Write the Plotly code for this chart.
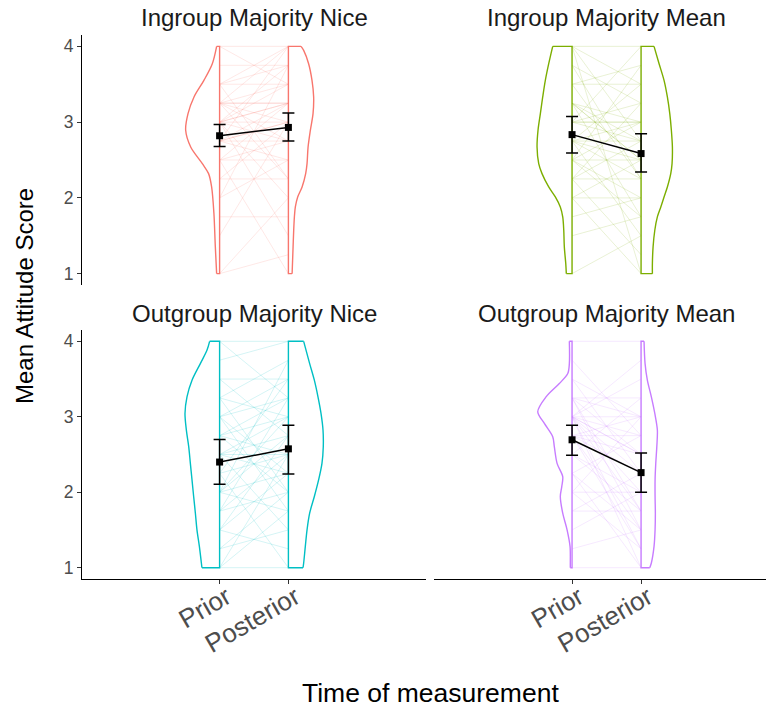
import plotly.graph_objects as go

# ---- facet labels, colours, time points ----
PANELS = ["Ingroup Majority Nice", "Ingroup Majority Mean",
          "Outgroup Majority Nice", "Outgroup Majority Mean"]
COLORS = ["#F8766D", "#7CAE00", "#00BFC4", "#C77CFF"]
TIMES = ["Prior", "Posterior"]
Y_TICKS = [1, 2, 3, 4]

# ---- participant scores (paired prior / posterior) ----
IMN_PRIOR = [4.0, 4.0, 3.75, 3.5, 3.5, 3.5, 3.5, 3.25, 3.25, 3.25, 3.25, 3.25, 3.25, 3.25,
             3.0, 3.0, 3.0, 3.0, 3.0, 3.0, 3.0, 3.0, 2.75, 2.75, 2.75, 2.75, 2.75, 2.75,
             2.5, 2.5, 2.5, 2.5, 2.25, 2.25, 2.0, 2.0, 1.75, 1.5, 1.0, 1.0]
IMN_POST = [4.0, 3.5, 3.75, 3.5, 4.0, 2.25, 3.75, 3.0, 3.25, 2.75, 4.0, 3.25, 2.25, 3.5,
            3.0, 3.25, 2.0, 3.75, 2.75, 3.5, 1.5, 3.25, 3.0, 4.0, 2.5, 3.25, 2.75, 3.0,
            2.5, 2.75, 1.0, 3.25, 3.0, 2.25, 2.5, 3.75, 1.75, 3.0, 2.0, 1.25]

IMM_PRIOR = [4.0, 4.0, 4.0, 4.0, 3.75, 3.75, 3.5, 3.5, 3.5, 3.25, 3.25, 3.25, 3.25, 3.25,
             3.0, 3.0, 3.0, 3.0, 3.0, 2.75, 2.75, 2.75, 2.75, 2.75, 2.75, 2.5, 2.5, 2.5,
             2.5, 2.5, 2.25, 2.25, 2.25, 2.25, 2.0, 2.0, 2.0, 1.75, 1.5, 1.0]
IMM_POST = [3.5, 2.75, 4.0, 1.0, 3.25, 2.25, 3.75, 3.5, 2.25, 2.75, 1.75, 2.5, 2.5, 3.0,
            3.0, 4.0, 2.75, 3.0, 3.25, 2.5, 3.0, 1.5, 2.75, 3.5, 2.25, 2.0, 3.0, 2.5,
            1.75, 3.75, 2.75, 1.25, 2.25, 3.25, 2.5, 1.0, 2.0, 2.0, 1.75, 1.5]

OMN_PRIOR = [4.0, 4.0, 3.75, 3.5, 3.5, 3.25, 3.25, 3.25, 3.0, 3.0, 3.0, 3.0, 2.75, 2.75,
             2.75, 2.75, 2.5, 2.5, 2.5, 2.5, 2.5, 2.25, 2.25, 2.25, 2.0, 2.0, 2.0, 2.0,
             2.0, 1.75, 1.75, 1.75, 1.5, 1.5, 1.5, 1.25, 1.25, 1.0, 1.0, 1.0]
OMN_POST = [4.0, 3.25, 4.0, 2.75, 3.5, 2.0, 3.75, 3.0, 2.25, 3.5, 1.75, 3.25, 2.5, 3.25,
            3.0, 2.0, 2.5, 2.75, 1.5, 3.0, 2.25, 3.5, 2.5, 1.0, 2.75, 3.75, 2.25, 1.75,
            3.0, 2.5, 2.0, 3.25, 2.25, 1.25, 2.75, 2.0, 1.5, 2.5, 1.75, 1.0]

OMM_PRIOR = [4.0, 3.75, 3.5, 3.5, 3.25, 3.25, 3.25, 3.25, 3.25, 3.0, 3.0, 3.0, 3.0, 3.0,
             3.0, 3.0, 3.0, 3.0, 3.0, 3.0, 2.75, 2.75, 2.75, 2.75, 2.75, 2.75, 2.5, 2.5,
             2.5, 2.25, 2.25, 2.25, 2.0, 2.0, 2.0, 1.75, 1.75, 1.5, 1.25, 1.0]
OMM_POST = [4.0, 2.75, 3.0, 2.25, 3.0, 1.75, 2.5, 3.25, 1.5, 2.5, 3.5, 2.75, 1.25, 2.5,
            3.0, 1.75, 2.25, 1.0, 2.0, 3.75, 2.5, 1.5, 3.0, 2.25, 1.25, 2.75, 2.0, 1.75,
            3.25, 1.5, 2.75, 1.0, 2.0, 1.25, 3.0, 2.25, 1.75, 2.0, 1.5, 1.0]

PRIOR = [IMN_PRIOR, IMM_PRIOR, OMN_PRIOR, OMM_PRIOR]
POST = [IMN_POST, IMM_POST, OMN_POST, OMM_POST]

# ---- group means with interval bounds ----
MEAN_PRIOR = [2.82, 2.835, 2.40, 2.695]
MEAN_POST = [2.93, 2.585, 2.575, 2.26]
LO_PRIOR = [2.677, 2.594, 2.106, 2.49]
HI_PRIOR = [2.967, 3.073, 2.70, 2.886]
LO_POST = [2.75, 2.343, 2.242, 2.00]
HI_POST = [3.12, 2.845, 2.886, 2.52]

# ---- half-violin density outlines: score level and half-width ----
IMN_PRIOR_DY = [4.0, 3.771, 3.551, 3.332, 3.112, 2.892, 2.672, 2.452, 2.32, 2.144, 1.80, 1.353, 1.0]
IMN_PRIOR_DW = [0.043, 0.106, 0.228, 0.372, 0.459, 0.493, 0.420, 0.251, 0.160, 0.116, 0.083, 0.062, 0.043]
IMN_POST_DY = [4.0, 3.947, 3.771, 3.551, 3.332, 3.112, 2.892, 2.672, 2.452, 2.32, 2.144, 2.012,
               1.88, 1.749, 1.573, 1.353, 1.0]
IMN_POST_DW = [0.184, 0.222, 0.294, 0.343, 0.367, 0.358, 0.319, 0.286, 0.271, 0.251, 0.199, 0.135,
               0.101, 0.087, 0.077, 0.068, 0.054]

IMM_DY = [4.0, 3.771, 3.551, 3.332, 3.112, 2.892, 2.672, 2.452, 2.32, 2.144, 2.012, 1.88,
          1.749, 1.573, 1.353, 1.133, 1.0]
IMM_PRIOR_DW = [0.280, 0.338, 0.387, 0.425, 0.459, 0.493, 0.507, 0.483, 0.435, 0.338, 0.242, 0.170,
                0.135, 0.120, 0.112, 0.091, 0.083]
IMM_POST_DW = [0.188, 0.261, 0.333, 0.381, 0.416, 0.439, 0.454, 0.449, 0.430, 0.381, 0.333, 0.286,
               0.236, 0.199, 0.174, 0.164, 0.164]

OMN_PRIOR_DY = [4.0, 3.881, 3.705, 3.485, 3.264, 3.044, 2.824, 2.604, 2.383, 2.163, 1.943, 1.722,
                1.502, 1.282, 1.062, 1.0]
OMN_PRIOR_DW = [0.145, 0.184, 0.280, 0.401, 0.474, 0.503, 0.483, 0.449, 0.425, 0.401, 0.377, 0.352,
                0.329, 0.294, 0.265, 0.257]
OMN_POST_DY = [4.0, 3.705, 3.485, 3.264, 3.044, 2.824, 2.604, 2.383, 2.163, 1.943, 1.722, 1.502,
               1.282, 1.062, 1.0]
OMN_POST_DW = [0.222, 0.309, 0.377, 0.430, 0.474, 0.503, 0.507, 0.488, 0.439, 0.377, 0.309, 0.271,
               0.246, 0.222, 0.213]

OMM_PRIOR_DY = [4.0, 3.705, 3.573, 3.441, 3.264, 3.066, 2.912, 2.736, 2.604, 2.383, 2.207, 2.075,
                1.943, 1.722, 1.502, 1.282, 1.062, 1.0]
OMM_PRIOR_DW = [0.039, 0.039, 0.062, 0.184, 0.377, 0.497, 0.401, 0.280, 0.257, 0.217, 0.135, 0.149,
                0.170, 0.135, 0.072, 0.029, 0.025, 0.025]
OMM_POST_DY = [4.0, 3.705, 3.485, 3.264, 3.044, 2.824, 2.604, 2.383, 2.163, 1.943, 1.722, 1.502,
               1.282, 1.062, 1.0]
OMM_POST_DW = [0.043, 0.058, 0.091, 0.149, 0.199, 0.236, 0.228, 0.213, 0.203, 0.203, 0.207, 0.203,
               0.188, 0.149, 0.126]

PRIOR_DENS = [(IMN_PRIOR_DY, IMN_PRIOR_DW), (IMM_DY, IMM_PRIOR_DW),
              (OMN_PRIOR_DY, OMN_PRIOR_DW), (OMM_PRIOR_DY, OMM_PRIOR_DW)]
POST_DENS = [(IMN_POST_DY, IMN_POST_DW), (IMM_DY, IMM_POST_DW),
             (OMN_POST_DY, OMN_POST_DW), (OMM_POST_DY, OMM_POST_DW)]

# ---- figure ----
W, H = 766, 710
FONT = "Liberation Sans, Arial, Helvetica, sans-serif"
X_POS = [1, 2]  # numeric positions of Prior / Posterior


def rgba(hex_color, a):
    h = hex_color.lstrip("#")
    r, g, b = int(h[0:2], 16), int(h[2:4], 16), int(h[4:6], 16)
    return f"rgba({r},{g},{b},{a})"


fig = go.Figure()
axis_ids = [("x", "y"), ("x2", "y2"), ("x3", "y3"), ("x4", "y4")]

for i in range(4):
    xa, ya = axis_ids[i]
    col = COLORS[i]

    # one faint line per participant
    for a, b in zip(PRIOR[i], POST[i]):
        fig.add_trace(go.Scatter(
            x=X_POS, y=[a, b], mode="lines",
            line=dict(color=rgba(col, 0.17), width=1),
            xaxis=xa, yaxis=ya, hoverinfo="skip", showlegend=False))

    # half violins: prior opens to the left, posterior to the right
    for (dy, dw), x0, sgn in ((PRIOR_DENS[i], X_POS[0], -1), (POST_DENS[i], X_POS[1], 1)):
        fig.add_trace(go.Scatter(
            x=[x0 + sgn * w for w in dw], y=dy, mode="lines",
            line=dict(color=col, width=1.4, shape="spline", smoothing=0.9),
            xaxis=xa, yaxis=ya, hoverinfo="skip", showlegend=False))
        fig.add_trace(go.Scatter(
            x=[x0 + sgn * dw[0], x0, x0, x0 + sgn * dw[-1]],
            y=[dy[0], dy[0], dy[-1], dy[-1]], mode="lines",
            line=dict(color=col, width=1.4),
            xaxis=xa, yaxis=ya, hoverinfo="skip", showlegend=False))

    # group means with interval bars
    means = [MEAN_PRIOR[i], MEAN_POST[i]]
    fig.add_trace(go.Scatter(
        x=X_POS, y=means, mode="lines+markers",
        line=dict(color="black", width=1.5),
        marker=dict(symbol="square", size=7, color="black"),
        error_y=dict(type="data", symmetric=False,
                     array=[HI_PRIOR[i] - means[0], HI_POST[i] - means[1]],
                     arrayminus=[means[0] - LO_PRIOR[i], means[1] - LO_POST[i]],
                     color="black", thickness=1.5, width=6),
        xaxis=xa, yaxis=ya, hoverinfo="skip", showlegend=False))

# panel geometry in pixels
LEFT_X = (82, 426)
RIGHT_X = (434, 766)
TOP_Y = (35, 285)
BOT_Y = (330, 579)


def xdom(p):
    return [p[0] / W, p[1] / W]


def ydom(p):
    return [1 - p[1] / H, 1 - p[0] / H]


Y_RANGE = [0.85, 4.15]
LEFT_RANGE = [-1.0, 4.0]
RIGHT_RANGE = [-1.0, 3.81]

base_x = dict(showgrid=False, zeroline=False, fixedrange=True)
base_y = dict(showgrid=False, zeroline=False, range=Y_RANGE, fixedrange=True)

y_visible = dict(showline=True, linecolor="black", linewidth=1.1,
                 ticks="outside", ticklen=4, tickwidth=1.1, tickcolor="#333333",
                 tickvals=Y_TICKS, ticktext=[str(v) for v in Y_TICKS],
                 tickfont=dict(family=FONT, size=17.5, color="#4d4d4d"))
y_hidden = dict(showline=False, showticklabels=False, ticks="")
x_visible = dict(showline=True, linecolor="black", linewidth=1.1,
                 ticks="outside", ticklen=4, tickwidth=1.1, tickcolor="#333333",
                 tickvals=X_POS, ticktext=TIMES, tickangle=-30,
                 ticklabelshift=7, ticklabelstandoff=-12,
                 tickfont=dict(family=FONT, size=26, color="#4d4d4d"))
x_hidden = dict(showline=False, showticklabels=False, ticks="")

fig.update_layout(
    width=W, height=H,
    margin=dict(l=0, r=0, t=0, b=0),
    paper_bgcolor="white", plot_bgcolor="white",
    showlegend=False, hovermode=False,
    font=dict(family=FONT, color="black"),
    xaxis=dict(domain=xdom(LEFT_X), range=LEFT_RANGE, anchor="y", **base_x, **x_hidden),
    yaxis=dict(domain=ydom(TOP_Y), anchor="x", **base_y, **y_visible),
    xaxis2=dict(domain=xdom(RIGHT_X), range=RIGHT_RANGE, anchor="y2", **base_x, **x_hidden),
    yaxis2=dict(domain=ydom(TOP_Y), anchor="x2", **base_y, **y_hidden),
    xaxis3=dict(domain=xdom(LEFT_X), range=LEFT_RANGE, anchor="y3", **base_x, **x_visible),
    yaxis3=dict(domain=ydom(BOT_Y), anchor="x3", **base_y, **y_visible),
    xaxis4=dict(domain=xdom(RIGHT_X), range=RIGHT_RANGE, anchor="y4", **base_x, **x_visible),
    yaxis4=dict(domain=ydom(BOT_Y), anchor="x4", **base_y, **y_hidden),
)

# facet strip titles, centred over each panel
strip_centres = [(254, 18), (606, 18), (254, 313.5), (606, 313.5)]
for name, (cx, cy) in zip(PANELS, strip_centres):
    fig.add_annotation(text=name, x=cx / W, y=1 - cy / H, xref="paper", yref="paper",
                       xanchor="center", yanchor="middle", showarrow=False,
                       font=dict(family=FONT, size=24, color="#1a1a1a"))

# axis titles
fig.add_annotation(text="Mean Attitude Score", x=24 / W, y=1 - 296 / H,
                   xref="paper", yref="paper", xanchor="center", yanchor="middle",
                   textangle=-90, showarrow=False,
                   font=dict(family=FONT, size=24, color="black"))
fig.add_annotation(text="Time of measurement", x=430 / W, y=1 - 693 / H,
                   xref="paper", yref="paper", xanchor="center", yanchor="middle",
                   showarrow=False, font=dict(family=FONT, size=26.5, color="black"))

fig.write_html("out.html")
